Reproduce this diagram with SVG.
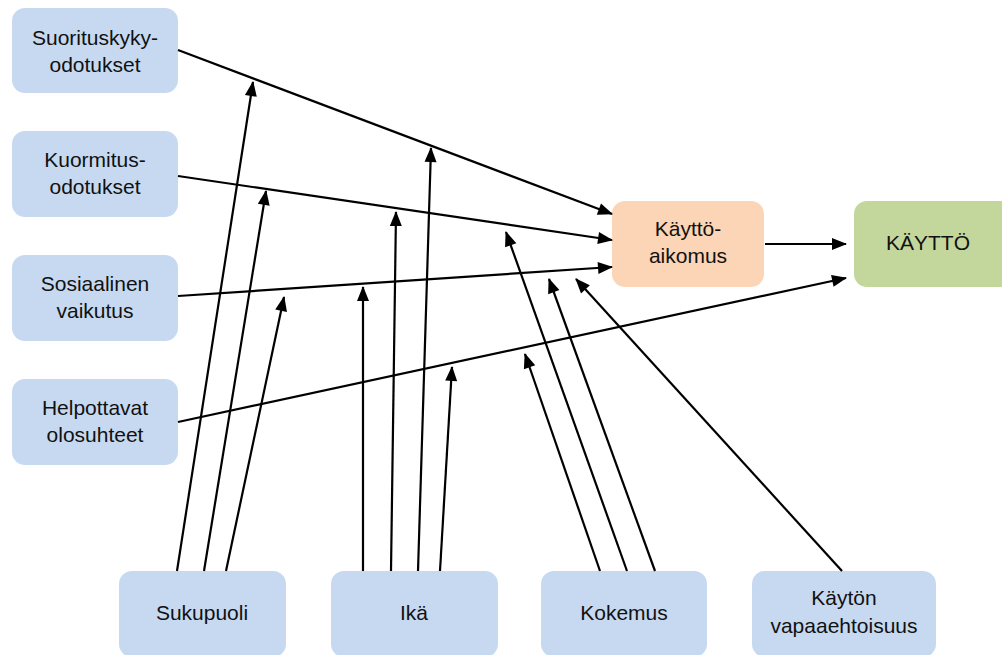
<svg xmlns="http://www.w3.org/2000/svg" width="1002" height="655" viewBox="0 0 1002 655">
  <defs>
    <marker id="arrow" markerUnits="userSpaceOnUse" markerWidth="15" markerHeight="12" refX="14" refY="6" orient="auto" overflow="visible">
      <path d="M0,0 L15,6 L0,12 z" fill="#000"/>
    </marker>
    <style>
      .box { stroke: none; }
      .blue { fill: #C6D9F1; }
      .orange { fill: #FBD5B5; }
      .green { fill: #C3D69B; }
      text { font-family: "Liberation Sans", Arial, sans-serif; font-size: 21px; fill: #111; text-anchor: middle; }
      .conn line { stroke: #000; stroke-width: 2.2; fill: none; marker-end: url(#arrow); }
    </style>
  </defs>
  <rect width="1002" height="655" fill="#fff"/>

  <!-- left column: determinants -->
  <g id="suorituskyky">
    <rect class="box blue" x="12" y="8" width="166" height="85" rx="13"/>
    <text x="95" y="45">Suorituskyky-</text>
    <text x="95" y="72">odotukset</text>
  </g>
  <g id="kuormitus">
    <rect class="box blue" x="12" y="131" width="166" height="86" rx="13"/>
    <text x="95" y="167">Kuormitus-</text>
    <text x="95" y="194">odotukset</text>
  </g>
  <g id="sosiaalinen">
    <rect class="box blue" x="12" y="255" width="166" height="86" rx="13"/>
    <text x="95" y="291">Sosiaalinen</text>
    <text x="95" y="318">vaikutus</text>
  </g>
  <g id="helpottavat">
    <rect class="box blue" x="12" y="379" width="166" height="86" rx="13"/>
    <text x="95" y="415">Helpottavat</text>
    <text x="95" y="442">olosuhteet</text>
  </g>

  <!-- intention and use -->
  <g id="aikomus">
    <rect class="box orange" x="612" y="201" width="152" height="86" rx="13"/>
    <text x="688" y="236">Käyttö-</text>
    <text x="688" y="263">aikomus</text>
  </g>
  <g id="kaytto">
    <rect class="box green" x="854" y="201" width="160" height="86" rx="13"/>
    <text x="928" y="250">KÄYTTÖ</text>
  </g>

  <!-- bottom row: moderators -->
  <g id="sukupuoli">
    <rect class="box blue" x="119" y="571" width="167" height="86" rx="13"/>
    <text x="202" y="620">Sukupuoli</text>
  </g>
  <g id="ika">
    <rect class="box blue" x="331" y="571" width="167" height="86" rx="13"/>
    <text x="414" y="620">Ikä</text>
  </g>
  <g id="kokemus">
    <rect class="box blue" x="541" y="571" width="166" height="86" rx="13"/>
    <text x="624" y="620">Kokemus</text>
  </g>
  <g id="vapaaehtoisuus">
    <rect class="box blue" x="752" y="571" width="184" height="86" rx="13"/>
    <text x="844" y="605">Käytön</text>
    <text x="844" y="633">vapaaehtoisuus</text>
  </g>

  <!-- connectors -->
  <g class="conn" id="connectors">
    <line x1="178" y1="50" x2="612" y2="214"/>
    <line x1="178" y1="176" x2="612" y2="240"/>
    <line x1="178" y1="296" x2="612" y2="267"/>
    <line x1="178" y1="422" x2="846" y2="278"/>
    <line x1="765" y1="244" x2="846" y2="244"/>

    <line x1="177" y1="571" x2="253" y2="82"/>
    <line x1="204" y1="571" x2="266" y2="191"/>
    <line x1="226" y1="571" x2="284" y2="297"/>

    <line x1="363" y1="571" x2="363" y2="287"/>
    <line x1="391" y1="571" x2="396" y2="212"/>
    <line x1="418" y1="571" x2="431" y2="148"/>
    <line x1="440" y1="571" x2="452" y2="367"/>

    <line x1="600" y1="571" x2="525" y2="354"/>
    <line x1="627" y1="571" x2="506" y2="232"/>
    <line x1="655" y1="571" x2="549" y2="279"/>

    <line x1="842" y1="571" x2="576" y2="279"/>
  </g>
</svg>
